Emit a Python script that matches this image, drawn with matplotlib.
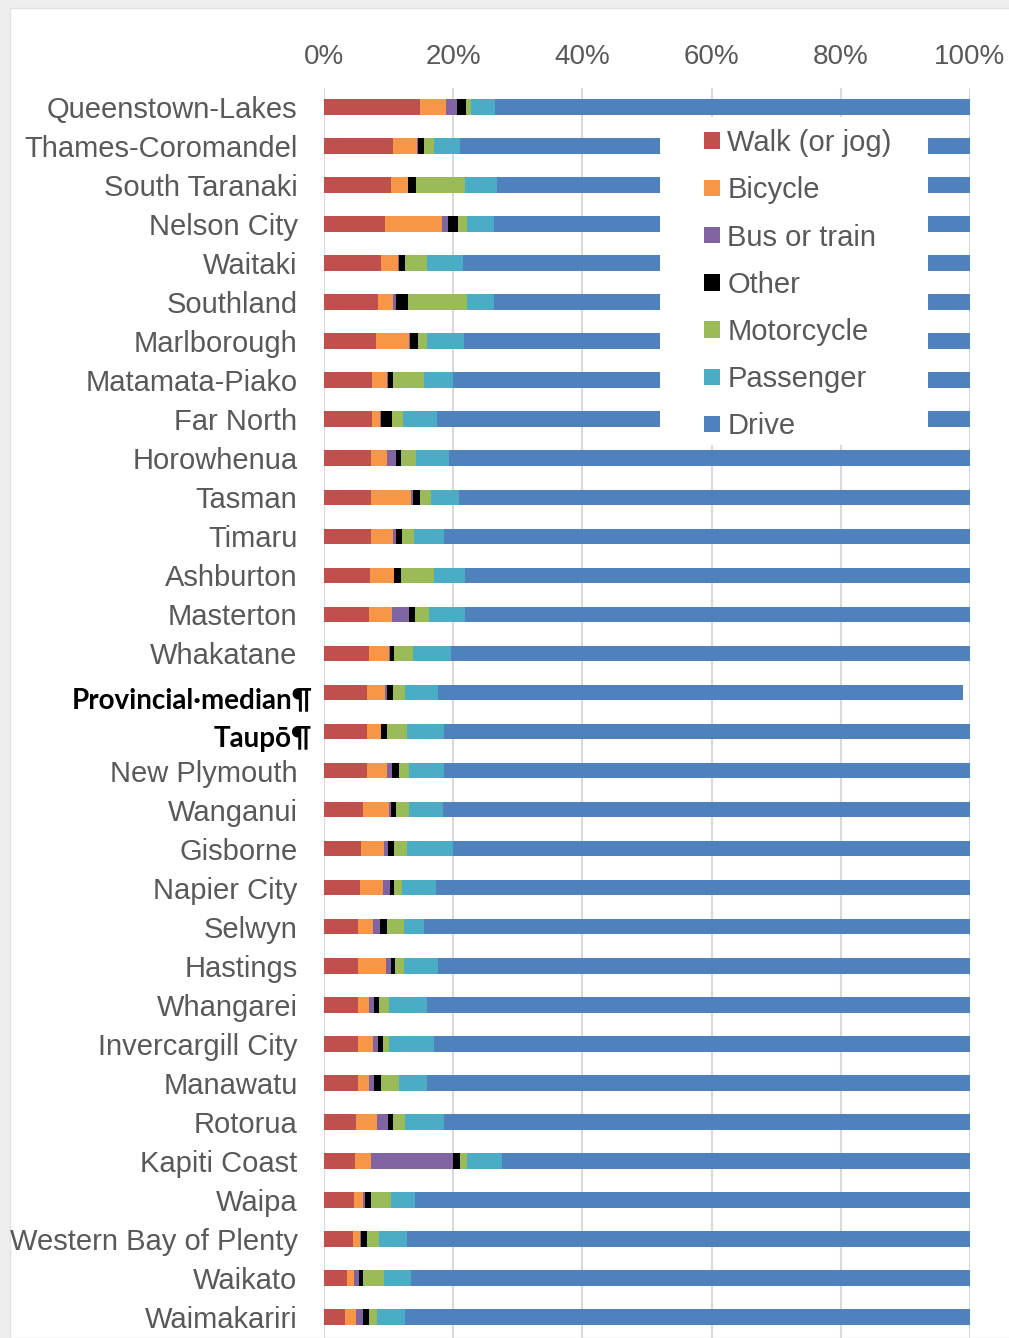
import numpy as np
import matplotlib
matplotlib.use("Agg")
from matplotlib import pyplot as plt
from matplotlib.patches import Rectangle, Patch
from matplotlib.transforms import ScaledTranslation

# districts, top to bottom
districts = ['Queenstown-Lakes', 'Thames-Coromandel', 'South Taranaki', 'Nelson City',
             'Waitaki', 'Southland', 'Marlborough', 'Matamata-Piako', 'Far North',
             'Horowhenua', 'Tasman', 'Timaru', 'Ashburton', 'Masterton', 'Whakatane',
             'Provincial·median¶', 'Taupō¶', 'New Plymouth', 'Wanganui', 'Gisborne',
             'Napier City', 'Selwyn', 'Hastings', 'Whangarei', 'Invercargill City',
             'Manawatu', 'Rotorua', 'Kapiti Coast', 'Waipa', 'Western Bay of Plenty',
             'Waikato', 'Waimakariri']
bold_labels = ['Provincial·median¶', 'Taupō¶']

# share of commuters (%) by mode
walk = [14.8, 10.7, 10.3, 9.5, 8.9, 8.4, 8.1, 7.5, 7.5, 7.3, 7.3, 7.3, 7.1, 6.9, 6.9,
        6.7, 6.7, 6.7, 6.1, 5.8, 5.5, 5.3, 5.3, 5.3, 5.3, 5.3, 5.0, 4.8, 4.6, 4.5, 3.5, 3.2]
bicycle = [4.1, 3.7, 2.7, 8.7, 2.6, 2.3, 5.1, 2.3, 1.1, 2.5, 6.2, 3.4, 3.8, 3.6, 3.2,
           2.7, 2.1, 3.1, 4.0, 3.5, 3.6, 2.3, 4.3, 1.6, 2.3, 1.6, 3.2, 2.4, 1.4, 1.0, 1.1, 1.8]
bus = [1.7, 0.1, 0.0, 1.0, 0.1, 0.5, 0.1, 0.1, 0.3, 1.3, 0.2, 0.4, 0.0, 2.7, 0.1,
       0.4, 0.1, 0.7, 0.3, 0.6, 1.1, 1.1, 0.7, 0.9, 0.8, 0.9, 1.7, 12.8, 0.4, 0.3, 0.8, 1.1]
other = [1.4, 1.0, 1.3, 1.5, 1.0, 1.8, 1.3, 0.8, 1.6, 0.8, 1.1, 1.0, 1.0, 0.9, 0.7,
         0.9, 0.9, 1.1, 0.8, 1.0, 0.7, 1.1, 0.7, 0.7, 0.7, 1.0, 0.8, 1.1, 0.9, 0.9, 0.7, 0.8]
motorcycle = [0.8, 1.6, 7.5, 1.5, 3.3, 9.2, 1.3, 4.8, 1.8, 2.4, 1.8, 1.8, 5.2, 2.1, 2.8,
              1.8, 3.1, 1.6, 2.0, 2.0, 1.2, 2.6, 1.4, 1.6, 1.0, 2.8, 1.8, 1.1, 3.0, 1.8, 3.2, 1.3]
passenger = [3.6, 4.0, 5.0, 4.1, 5.6, 4.1, 5.7, 4.4, 5.2, 5.1, 4.3, 4.7, 4.7, 5.6, 6.0,
             5.2, 5.7, 5.4, 5.2, 7.1, 5.2, 3.1, 5.3, 5.8, 7.0, 4.3, 6.1, 5.4, 3.8, 4.4, 4.2, 4.4]
drive = [73.6, 78.9, 73.2, 73.7, 78.5, 73.7, 78.4, 80.1, 82.5, 80.6, 79.1, 81.4, 78.2, 78.2, 80.3,
         81.2, 81.4, 81.4, 81.6, 80.0, 82.7, 84.5, 82.3, 84.1, 82.9, 84.1, 81.4, 72.4, 85.9, 87.1, 86.5, 87.4]

modes = ['Walk (or jog)', 'Bicycle', 'Bus or train', 'Other', 'Motorcycle', 'Passenger', 'Drive']
colors = ['#C0504D', '#F79646', '#8064A2', '#000000', '#9BBB59', '#4BACC6', '#4F81BD']
series = [walk, bicycle, bus, other, motorcycle, passenger, drive]

text_col = '#595959'
plt.rcParams['font.family'] = ['Liberation Sans', 'DejaVu Sans']

fig = plt.figure(figsize=(10.09, 13.38), dpi=100, facecolor='#eeeeee')
# white panel (screenshot frame)
fig.patches.append(Rectangle((10 / 1009, 0), 1, 1 - 8 / 1338, transform=fig.transFigure,
                             facecolor='white', edgecolor='#e2e2e2', lw=1, zorder=-5))

ax = fig.add_axes([324 / 1009, 0, 646 / 1009, 1 - 88 / 1338])
ax.set_zorder(2)
ax.set_facecolor('none')

y = np.arange(len(districts))
left = np.zeros(len(districts))
for vals, col, name in zip(series, colors, modes):
    vals = np.array(vals)
    ax.barh(y, vals, left=left, height=0.4, color=col, label=name, zorder=2)
    left += vals

ax.set_xlim(0, 100)
ax.set_ylim(31 + 21 / 39.03, -19 / 39.03)

ax.xaxis.tick_top()
ax.set_xticks(np.arange(0, 101, 20))
ax.set_xticklabels([f'{v}%' for v in range(0, 101, 20)])
ax.tick_params(axis='x', length=0, pad=13, labelsize=20, labelcolor=text_col)
ax.set_yticks(y)
ax.set_yticklabels(districts)
ax.tick_params(axis='y', length=0, pad=19, labelsize=21, labelcolor=text_col)
ax.grid(axis='x', color='#d9d9d9', lw=1.5, zorder=0)
ax.set_axisbelow(True)
for s in ax.spines.values():
    s.set_visible(False)

for lab in ax.get_yticklabels():
    if lab.get_text() in bold_labels:
        lab.set_fontfamily(['Lato', 'DejaVu Sans'])
        lab.set_fontweight('bold')
        lab.set_fontsize(20)
        lab.set_color('black')
        lab.set_transform(lab.get_transform() + ScaledTranslation(15 / 100, -5 / 100, fig.dpi_scale_trans))

# white box behind the legend hides the bars there
ax.add_patch(Rectangle(((660 - 324) / 646, 1 - 29 / 1250), (928 - 660) / 646, -(445 - 117) / 1250,
                       transform=ax.transAxes, facecolor='white', edgecolor='none', zorder=5))
handles = [Patch(facecolor=c) for c in colors]
leg = ax.legend(handles, modes, loc='upper left', frameon=False,
                bbox_to_anchor=(704 / 1009, 1 - 129 / 1338), bbox_transform=fig.transFigure,
                borderpad=0, borderaxespad=0, handlelength=0.55, handleheight=0.5,
                handletextpad=0.25, labelspacing=0.66, fontsize=21)
leg.set_zorder(6)
for t in leg.get_texts():
    t.set_color(text_col)

plt.savefig('out.png', dpi=100, facecolor=fig.get_facecolor())
